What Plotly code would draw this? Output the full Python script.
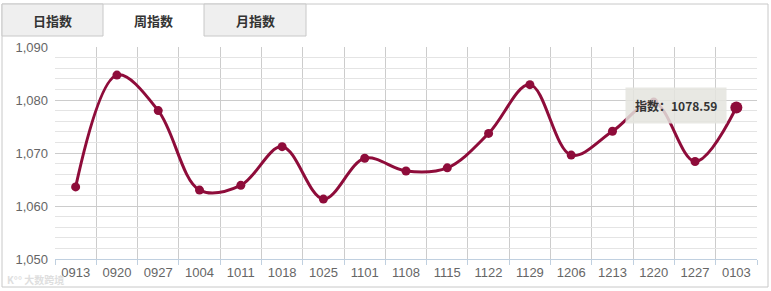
import plotly.graph_objects as go

categories = ["0913", "0920", "0927", "1004", "1011", "1018", "1025", "1101", "1108",
              "1115", "1122", "1129", "1206", "1213", "1220", "1227", "0103"]
values = [1063.6, 1084.7, 1078.0, 1063.0, 1063.9, 1071.2, 1061.3, 1069.0, 1066.6,
          1067.2, 1073.7, 1082.9, 1069.6, 1074.1, 1079.6, 1068.4, 1078.59]
y_ticks = [1050, 1060, 1070, 1080, 1090]
tabs = ["日指数", "周指数", "月指数"]
tooltip_label = "指数："

W, H = 771, 291
L, R, T, B = 55, 14, 47, 32
PW, PH = W - L - R, H - T - B

def fx(px):
    return (px - L) / PW

def fy(py):
    return (H - B - py) / PH

xs = list(range(len(categories)))
line_color = "#8E0C3A"

fig = go.Figure()
fig.add_trace(go.Scatter(
    x=xs, y=values, mode="lines+markers",
    line=dict(color=line_color, width=3, shape="spline", smoothing=1.0),
    marker=dict(color=line_color, opacity=1, size=[9] * (len(values) - 1) + [12],
                line=dict(width=0)),
    hoverinfo="skip", showlegend=False,
))

shapes = []
# outer frame
shapes.append(dict(type="rect", xref="paper", yref="paper",
                   x0=fx(2), x1=fx(768), y0=fy(287), y1=fy(4),
                   line=dict(color="#c8c8c8", width=1), fillcolor="rgba(0,0,0,0)", layer="below"))
# inactive tabs
for x0, x1 in [(2, 103), (204, 306)]:
    shapes.append(dict(type="rect", xref="paper", yref="paper",
                       x0=fx(x0), x1=fx(x1), y0=fy(36), y1=fy(4),
                       line=dict(color="#c8c8c8", width=1), fillcolor="#efefef", layer="below"))

annotations = []
for t, cx in zip(tabs, [52, 153, 255]):
    annotations.append(dict(xref="paper", yref="paper", x=fx(cx), y=fy(20), text="<b>%s</b>" % t,
                            xanchor="center", yanchor="middle",
                            showarrow=False, font=dict(size=13, color="#333333", family="Noto Sans CJK SC")))

# watermark
annotations.append(dict(xref="paper", yref="paper", x=fx(5), y=fy(279), text="<b>K°° 大数跨境</b>",
                        xanchor="left", yanchor="middle",
                        showarrow=False, font=dict(size=10, color="#dedede", family="Noto Sans CJK SC")))

# tooltip
annotations.append(dict(x=fx(676), y=fy(105), xref="paper", yref="paper",
                        xanchor="center", yanchor="middle",
                        text="<b>%s%.2f</b>" % (tooltip_label, values[-1]),
                        showarrow=False, bgcolor="rgba(228,228,222,0.85)", borderpad=9,
                        font=dict(size=12, color="#333333", family="Noto Sans CJK SC")))

fig.update_layout(
    width=W, height=H, margin=dict(l=L, r=R, t=T, b=B),
    paper_bgcolor="white", plot_bgcolor="white",
    shapes=shapes, annotations=annotations,
    font=dict(family="Liberation Sans, Arial", color="#666666"),
    xaxis=dict(range=[-0.5, len(categories) - 0.5], tickvals=xs, ticktext=categories,
               showgrid=False, zeroline=False, ticks="", fixedrange=True,
               tickfont=dict(size=13, color="#666666"), ticklabelstandoff=1,
               showline=True, linecolor="#C0D0E0", linewidth=1,
               minor=dict(tickvals=[i - 0.5 for i in range(len(categories) + 1)],
                          showgrid=True, gridcolor="#cccccc", gridwidth=1,
                          ticks="outside", ticklen=5, tickcolor="#C0D0E0")),
    yaxis=dict(range=[1050, 1090], tickvals=y_ticks, tickformat=",",
               showgrid=True, gridcolor="#cccccc", zeroline=False,
               tickfont=dict(size=13, color="#666666"), ticks="", ticklabelstandoff=6,
               minor=dict(dtick=2, tick0=1050, showgrid=True, gridcolor="#e4e4e4")),
)

fig.write_html("out.html")
